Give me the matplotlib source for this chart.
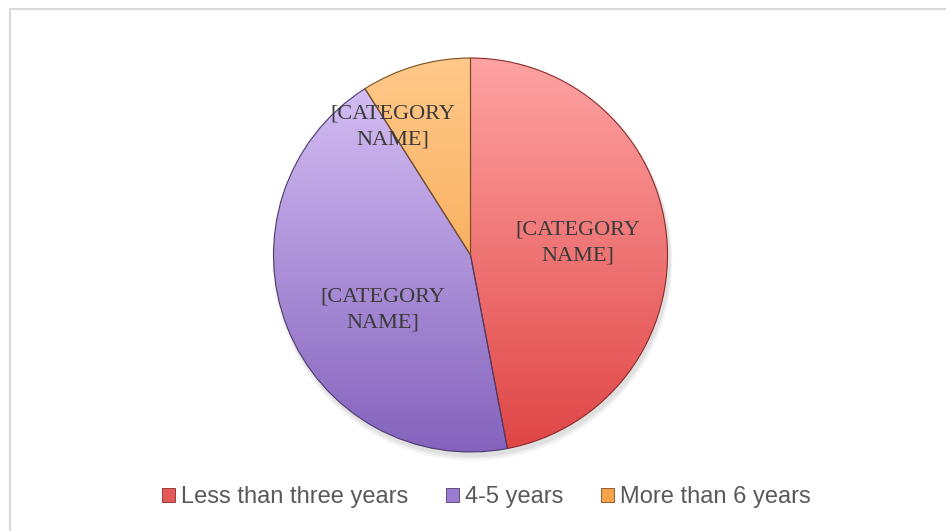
import numpy as np
import matplotlib.pyplot as plt
from matplotlib.colors import LinearSegmentedColormap
from matplotlib.patches import Patch

categories = ['Less than three years', '4-5 years', 'More than 6 years']
values = [47, 44, 9]
label_text = '[CATEGORY\nNAME]'

# top (light) / bottom (dark) colours of each slice
top_colors = ['#ffa3a3', '#d9c4f7', '#ffc98a']
bottom_colors = ['#df4545', '#8463bd', '#f49a3c']
edge_colors = ['#8a2a2a', '#4a3a70', '#7a5020']
legend_colors = ['#e25a5a', '#9a7cd0', '#f5a34a']

W, H = 946, 531
fig = plt.figure(figsize=(W / 100, H / 100), dpi=100)
ax = fig.add_axes([0, 0, 1, 1])

# chart frame (only top and left visible)
ax.plot([9.5, 9.5, W], [0, H - 8.5, H - 8.5], color='#d9d9d9', lw=1.5)

cx, cy, r = 470.5, H - 255, 197

# soft shadow
for i, a in enumerate([0.05, 0.04, 0.03]):
    sh = plt.Circle((cx + 2, cy - 4 - i), r + 1 + i, color='black', alpha=a, lw=0)
    ax.add_patch(sh)

wedges, _ = ax.pie(values, center=(cx, cy), radius=r, startangle=90,
                   counterclock=False, frame=True,
                   wedgeprops=dict(linewidth=0.8))

grad = np.linspace(0, 1, 256).reshape(-1, 1)
for w, c1, c2, ec in zip(wedges, top_colors, bottom_colors, edge_colors):
    w.set_facecolor('none')
    w.set_edgecolor(ec)
    w.set_zorder(3)
    cmap = LinearSegmentedColormap.from_list('g', [c1, c2])
    im = ax.imshow(grad, cmap=cmap, extent=(cx - r, cx + r, cy - r, cy + r),
                   origin='upper', aspect='auto', zorder=2)
    im.set_clip_path(w)

ax.set_xlim(0, W)
ax.set_ylim(0, H)
ax.set_aspect('equal')
ax.axis('off')

# slice labels
label_pos = [(578, H - 243), (383, H - 310), (393, H - 127)]
for (x, y) in label_pos:
    ax.text(x, y, label_text, ha='center', va='center', fontsize=16,
            family='Liberation Serif', color='#3a3a3a', linespacing=1.55,
            zorder=5)

handles = [Patch(facecolor=c, edgecolor=e, linewidth=0.6)
           for c, e in zip(legend_colors, edge_colors)]
fig.legend(handles, categories, loc='center', bbox_to_anchor=(486 / W, 1 - 497 / H),
           ncol=3, frameon=False, prop={'family': 'Liberation Sans', 'size': 17},
           labelcolor='#595959', handlelength=0.55, handleheight=0.55,
           handletextpad=0.25, columnspacing=1.6)

fig.savefig('out.png', dpi=100)
